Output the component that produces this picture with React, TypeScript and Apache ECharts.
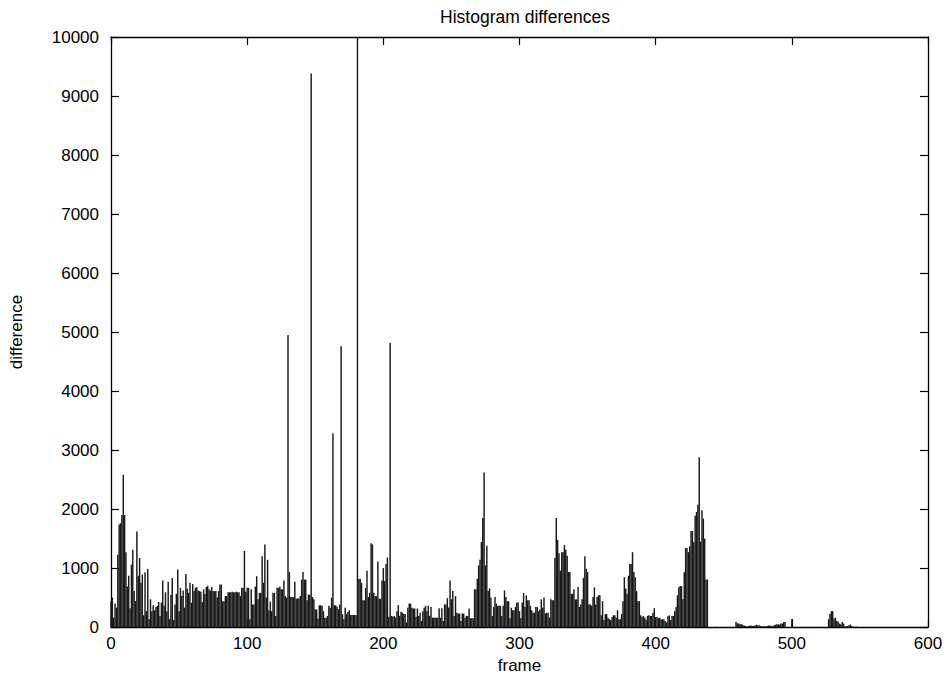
import { useEffect, useRef } from "react";
import * as echarts from "echarts";

const chartTitle = "Histogram differences";
const xAxisName = "frame";
const yAxisName = "difference";
const xMin = 0;
const xMax = 600;
const xStep = 100;
const yMin = 0;
const yMax = 10000;
const yStep = 1000;

// histogram difference per frame, frames 0..99
const diffFrames000 = [
  440, 500, 160, 400, 330, 1225, 1740, 1760, 1900, 2580,
  1900, 1270, 690, 870, 320, 1060, 1310, 610, 440, 1620,
  870, 1170, 750, 890, 200, 930, 270, 985, 135, 470,
  270, 370, 285, 340, 360, 425, 190, 415, 790, 360,
  590, 270, 770, 135, 550, 830, 120, 385, 565, 975,
  270, 665, 525, 620, 330, 900, 655, 580, 750, 415,
  730, 610, 665, 675, 620, 610, 600, 420, 640, 560,
  680, 700, 640, 620, 680, 610, 610, 610, 500, 610,
  720, 720, 440, 440, 525, 525, 590, 590, 590, 600,
  590, 590, 600, 590, 590, 525, 665, 665, 1290, 600,
];
// frames 100..199
const diffFrames100 = [
  665, 665, 135, 640, 385, 385, 690, 860, 470, 580,
  580, 1200, 750, 1400, 500, 1140, 285, 430, 270, 580,
  580, 190, 665, 665, 690, 640, 640, 790, 525, 500,
  4950, 935, 510, 510, 510, 770, 480, 485, 485, 525,
  805, 935, 805, 805, 455, 550, 550, 9380, 510, 470,
  300, 300, 145, 370, 370, 360, 270, 160, 160, 190,
  360, 330, 500, 3280, 370, 370, 345, 300, 385, 4760,
  220, 135, 330, 220, 255, 285, 205, 205, 205, 205,
  205, 10000, 815, 820, 750, 455, 455, 665, 955, 510,
  580, 1420, 1400, 580, 525, 525, 1110, 480, 480, 790,
];
// frames 200..299
const diffFrames200 = [
  1000, 780, 1070, 1180, 175, 4820, 190, 175, 190, 160,
  270, 375, 190, 260, 245, 220, 220, 80, 330, 400,
  400, 330, 315, 315, 175, 315, 190, 245, 105, 270,
  330, 360, 270, 360, 190, 340, 160, 160, 160, 160,
  160, 320, 160, 320, 105, 385, 385, 490, 330, 790,
  470, 610, 190, 525, 245, 230, 230, 105, 230, 230,
  160, 190, 190, 315, 150, 150, 150, 640, 640, 820,
  1045, 1140, 1440, 1850, 2620, 1045, 1380, 610, 655, 500,
  190, 340, 510, 400, 360, 360, 360, 190, 360, 620,
  510, 440, 440, 150, 330, 285, 285, 340, 415, 415,
];
// frames 300..399
const diffFrames300 = [
  270, 150, 415, 580, 340, 535, 455, 455, 360, 285,
  245, 245, 340, 340, 270, 300, 470, 330, 500, 230,
  245, 245, 160, 470, 455, 455, 1170, 1850, 1475, 1250,
  955, 1270, 1270, 1390, 1310, 1210, 935, 935, 565, 565,
  640, 470, 470, 680, 340, 385, 470, 835, 1200, 990,
  935, 385, 385, 360, 510, 675, 385, 510, 540, 540,
  200, 440, 120, 220, 220, 160, 135, 120, 170, 200,
  200, 160, 285, 135, 135, 220, 440, 845, 655, 565,
  870, 1070, 1070, 1270, 935, 845, 610, 440, 440, 200,
  170, 190, 160, 120, 190, 200, 190, 190, 245, 320,
];
// frames 400..499
const diffFrames400 = [
  170, 170, 150, 160, 135, 135, 135, 105, 80, 190,
  200, 120, 190, 190, 270, 340, 540, 675, 695, 695,
  470, 930, 1340, 1340, 1270, 1370, 1630, 1630, 1440, 1885,
  1950, 2075, 2880, 1450, 1980, 1840, 1500, 805, 805, 0,
  0, 0, 0, 0, 5, 0, 0, 0, 0, 0,
  0, 0, 0, 0, 0, 0, 0, 0, 0, 90,
  65, 60, 50, 50, 35, 25, 20, 15, 15, 25,
  25, 20, 20, 25, 40, 25, 30, 20, 15, 15,
  10, 15, 20, 25, 25, 20, 15, 30, 40, 50,
  50, 40, 60, 60, 85, 85, 0, 0, 0, 0,
];
// frames 500..548
const diffFrames500 = [
  135, 0, 0, 0, 0, 0, 0, 0, 0, 0,
  0, 0, 0, 0, 0, 3, 0, 0, 0, 0,
  0, 0, 0, 0, 0, 0, 0, 135, 220, 270,
  270, 145, 160, 105, 95, 60, 50, 85, 60, 10,
  15, 20, 30, 45, 20, 10, 5, 5, 5,
];

const FONT = "'Liberation Sans', Arial, Helvetica, sans-serif";

export default function App() {
  const ref = useRef<HTMLDivElement>(null);
  useEffect(() => {
    if (!ref.current) return;
    const chart = echarts.init(ref.current, null, { renderer: "svg" });
    const values = [
      ...diffFrames000,
      ...diffFrames100,
      ...diffFrames200,
      ...diffFrames300,
      ...diffFrames400,
      ...diffFrames500,
    ];
    const data = values.map((v, i) => [i, v]);
    const axisLine = { show: true, onZero: false, lineStyle: { color: "#000", width: 1.3 } };
    const tick = { show: true, inside: true, length: 8, lineStyle: { color: "#000", width: 1.2 } };
    const label = { color: "#000", fontSize: 17, fontFamily: FONT };
    const plain = (v: number) => String(v);
    chart.setOption({
      animation: false,
      backgroundColor: "#fff",
      title: {
        text: chartTitle,
        left: 520,
        top: 3,
        textAlign: "center",
        textStyle: { color: "#000", fontSize: 17.5, fontWeight: "normal", fontFamily: FONT },
      },
      grid: { left: 111, right: 18, top: 37, bottom: 46, containLabel: false },
      xAxis: [
        {
          type: "value",
          position: "bottom",
          min: xMin,
          max: xMax,
          interval: xStep,
          axisLine,
          axisTick: tick,
          axisLabel: { ...label, margin: 8, formatter: plain },
          splitLine: { show: false },
          name: xAxisName,
          nameLocation: "middle",
          nameGap: 28,
          nameTextStyle: { ...label },
        },
        {
          type: "value",
          position: "top",
          min: xMin,
          max: xMax,
          interval: xStep,
          axisLine,
          axisTick: tick,
          axisLabel: { show: false },
          splitLine: { show: false },
        },
      ],
      yAxis: [
        {
          type: "value",
          position: "left",
          min: yMin,
          max: yMax,
          interval: yStep,
          axisLine,
          axisTick: tick,
          axisLabel: { ...label, margin: 12, formatter: plain },
          splitLine: { show: false },
          name: yAxisName,
          nameLocation: "middle",
          nameGap: 86,
          nameRotate: 90,
          nameTextStyle: { ...label },
        },
        {
          type: "value",
          position: "right",
          min: yMin,
          max: yMax,
          interval: yStep,
          axisLine,
          axisTick: tick,
          axisLabel: { show: false },
          splitLine: { show: false },
        },
      ],
      series: [
        {
          type: "bar",
          data,
          xAxisIndex: 0,
          yAxisIndex: 0,
          barWidth: 1.45,
          clip: true,
          itemStyle: { color: "#1a1a1a" },
        },
      ],
    });
    return () => chart.dispose();
  }, []);
  return (
    <div
      ref={ref}
      style={{ position: "fixed", left: 0, top: 0, width: 946, height: 679 }}
    />
  );
}
